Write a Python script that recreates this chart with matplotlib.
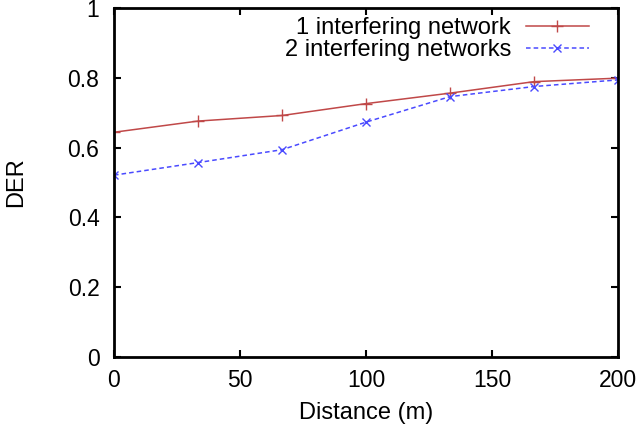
import matplotlib
matplotlib.use("Agg")
import matplotlib.pyplot as plt

distance = [0, 33.3, 66.7, 100, 133.3, 166.7, 200]
der_one = [0.644, 0.676, 0.692, 0.726, 0.756, 0.789, 0.799]
der_two = [0.521, 0.557, 0.594, 0.673, 0.746, 0.775, 0.794]
xticks = [0, 50, 100, 150, 200]
yticks = [0, 0.2, 0.4, 0.6, 0.8, 1]
ytick_labels = ['0', '0.2', '0.4', '0.6', '0.8', '1']

plt.rcParams['font.family'] = ['Liberation Sans', 'DejaVu Sans']
fig = plt.figure(figsize=(6.42, 4.28), dpi=100)
ax = fig.add_axes([114 / 642, 71 / 428, 504 / 642, 349 / 428])

ax.plot(distance, der_one, color='#c04848', lw=1.1, marker='+', ms=8, mew=1.0,
        label='1 interfering network')
ax.plot(distance, der_two, color='#4a4aff', lw=1.1, ls=(0, (3, 2)), marker='x', ms=5.5, mew=1.0,
        label='2 interfering networks')

ax.set_xlim(0, 200)
ax.set_ylim(0, 1)
ax.set_xticks(xticks)
ax.set_yticks(yticks)
ax.set_yticklabels(ytick_labels)
ax.tick_params(direction='in', top=True, right=True, length=5, width=1.5, labelsize=16.5)
ax.tick_params(axis='x', pad=8.5)
ax.tick_params(axis='y', pad=10.5)
for s in ax.spines.values():
    s.set_linewidth(2)
ax.set_xlabel('Distance (m)', fontsize=17, va='center')
ax.xaxis.set_label_coords(0.5, (357 - 413) / 349)
ax.set_ylabel('DER', fontsize=17, va='center')
ax.yaxis.set_label_coords((16 - 114) / 504, 0.5)

leg = ax.legend(loc='upper right', frameon=False, markerfirst=False, fontsize=17,
                handlelength=2.67, handletextpad=0.63, borderaxespad=0.0, borderpad=0.0,
                labelspacing=0.0, bbox_to_anchor=((589 - 114) / 504, (357 - 17) / 349))

fig.savefig('out.png', dpi=100)
